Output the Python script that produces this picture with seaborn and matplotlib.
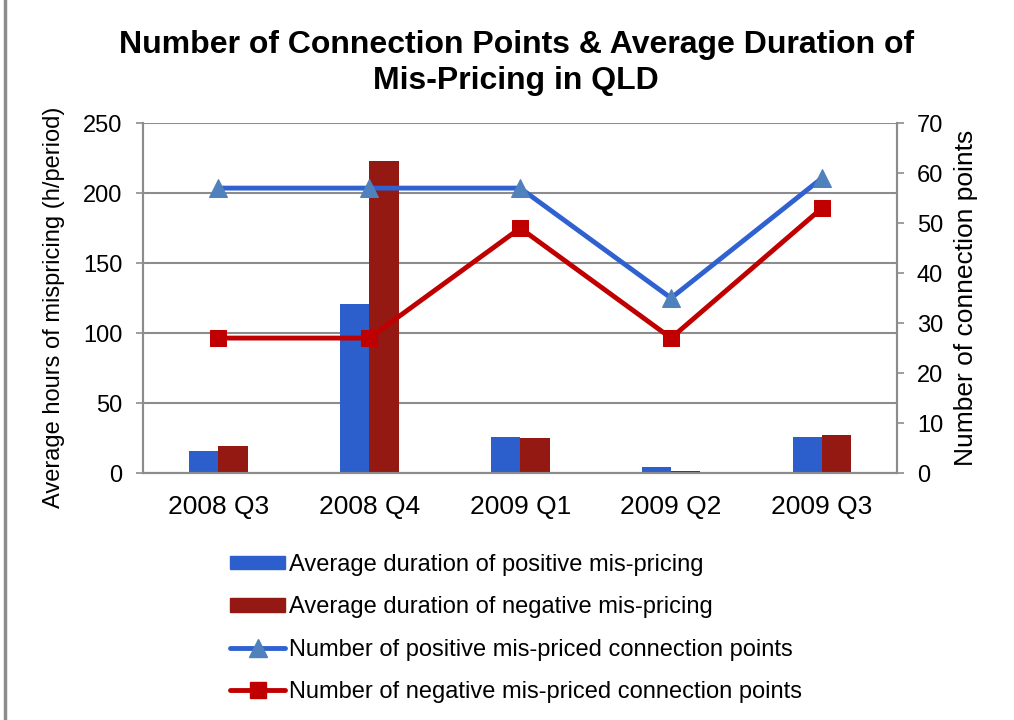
import numpy as np
import pandas as pd
import matplotlib
matplotlib.use('Agg')
import matplotlib.pyplot as plt
from matplotlib.lines import Line2D
from matplotlib.patches import Patch
import seaborn as sns

# chart data
quarters = ['2008 Q3', '2008 Q4', '2009 Q1', '2009 Q2', '2009 Q3']
dur_positive = [16, 121, 26, 4, 26]
dur_negative = [19, 223, 25, 1.5, 27]
pts_positive = [57, 57, 57, 35, 59]
pts_negative = [27, 27, 49, 27, 53]

bar_labels = ['Average duration of positive mis-pricing',
              'Average duration of negative mis-pricing']
line_labels = ['Number of positive mis-priced connection points',
               'Number of negative mis-priced connection points']

bar_colors = ['#2C5FCB', '#931912']
line_colors = ['#2F62D0', '#C00000']
marker_colors = ['#4F81BD', '#C00000']
grey = '#8C8C8C'

sns.set_theme(style='white')
plt.rcParams['font.family'] = ['Liberation Sans', 'DejaVu Sans']
plt.rcParams['text.color'] = 'black'

bars = pd.DataFrame({
    'quarter': quarters * 2,
    'hours': dur_positive + dur_negative,
    'series': [bar_labels[0]] * len(quarters) + [bar_labels[1]] * len(quarters),
})

fig = plt.figure(figsize=(10.14, 7.2), dpi=100)
ax = fig.add_axes([0.141, 0.343, 0.744, 0.486])

sns.barplot(data=bars, x='quarter', y='hours', hue='series', palette=bar_colors,
            width=0.39, saturation=1, linewidth=0, ax=ax, legend=False, zorder=2)

ax.set_ylim(0, 250)
ax.set_yticks(np.arange(0, 251, 50))
ax.set_xlim(-0.5, len(quarters) - 0.5)
ax.yaxis.grid(True, color=grey, lw=1.5, zorder=0)
ax.set_axisbelow(True)
ax.set_xlabel('')
ax.set_ylabel('Average hours of mispricing (h/period)', fontsize=17, color='black', labelpad=13)
ax.yaxis.label.set_y(0.474)
ax.tick_params(axis='x', length=0, labelsize=19, pad=16, colors='black')
ax.set_xticks(np.arange(-0.5, len(quarters)), minor=True)
ax.tick_params(axis='x', which='minor', length=8, width=1.2, color=grey, direction='out')
ax.tick_params(axis='y', length=5, width=1.2, color=grey, labelsize=17, direction='out', pad=10,
               labelcolor='black')
for s in ax.spines.values():
    s.set_color(grey)
    s.set_linewidth(1.5)
ax.spines['top'].set_visible(False)

ax2 = ax.twinx()
x = np.arange(len(quarters))
sns.lineplot(x=x, y=pts_positive, ax=ax2, color=line_colors[0], lw=3.5, marker='^',
             markersize=13, markerfacecolor=marker_colors[0], markeredgecolor=marker_colors[0], zorder=4)
sns.lineplot(x=x, y=pts_negative, ax=ax2, color=line_colors[1], lw=3.5, marker='s',
             markersize=11, markerfacecolor=marker_colors[1], markeredgecolor=marker_colors[1], zorder=5)
ax2.set_ylim(0, 70)
ax2.set_yticks(np.arange(0, 71, 10))
ax2.set_xlim(-0.5, len(quarters) - 0.5)
ax2.set_ylabel('Number of connection points', fontsize=19, color='black', labelpad=8)
ax2.tick_params(axis='y', length=5, width=1.2, color=grey, labelsize=17, direction='out', pad=9,
                labelcolor='black')
for s in ax2.spines.values():
    s.set_color(grey)
    s.set_linewidth(1.5)
ax2.spines['top'].set_visible(False)
ax2.grid(False)

fig.suptitle('Number of Connection Points & Average Duration of\nMis-Pricing in QLD',
             fontsize=23, fontweight='bold', x=0.509, y=0.958, linespacing=1.25)

handles = [Patch(color=bar_colors[0]), Patch(color=bar_colors[1]),
           Line2D([], [], color=line_colors[0], lw=3.5, marker='^', markersize=13,
                  markerfacecolor=marker_colors[0], markeredgecolor=marker_colors[0]),
           Line2D([], [], color=line_colors[1], lw=3.5, marker='s', markersize=11,
                  markerfacecolor=marker_colors[1], markeredgecolor=marker_colors[1])]
fig.legend(handles, bar_labels + line_labels, loc='upper left', bbox_to_anchor=(0.215, 0.247),
           frameon=False, fontsize=17, handlelength=2.35, handleheight=0.5,
           handletextpad=0.15, labelspacing=0.86, borderpad=0)

# thin grey frame line on the left edge of the picture
fig.add_artist(Line2D([0.005, 0.005], [0, 1], transform=fig.transFigure, color=grey, lw=2.5))

fig.savefig('out.png', dpi=100)
